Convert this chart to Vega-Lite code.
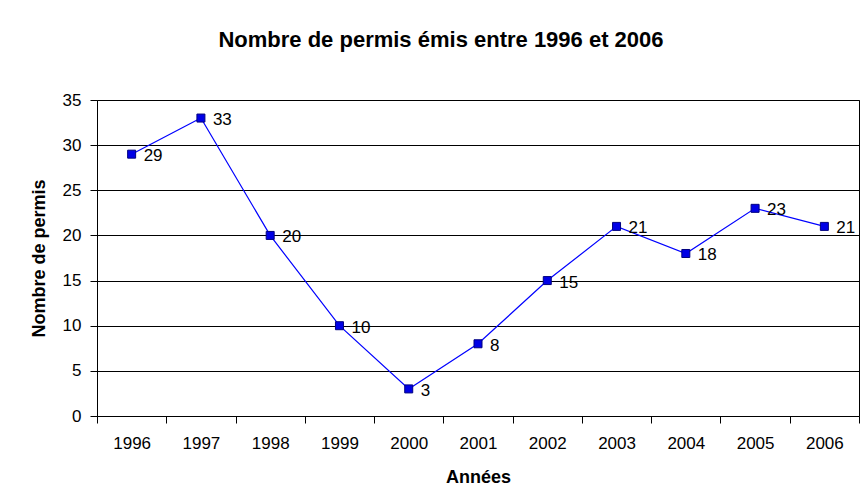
{
  "$schema": "https://vega.github.io/schema/vega-lite/v6.json",
  "width": 762,
  "height": 316,
  "autosize": "none",
  "padding": {"left": 97, "top": 100, "right": 9, "bottom": 85},
  "background": "white",
  "title": {
    "text": "Nombre de permis émis entre 1996 et 2006",
    "font": "Liberation Sans",
    "fontSize": 22,
    "fontWeight": "bold",
    "color": "black",
    "anchor": "middle",
    "frame": "group",
    "offset": 39,
    "dx": -37
  },
  "data": {
    "values": [
      {"annee": "1996", "permis": 29},
      {"annee": "1997", "permis": 33},
      {"annee": "1998", "permis": 20},
      {"annee": "1999", "permis": 10},
      {"annee": "2000", "permis": 3},
      {"annee": "2001", "permis": 8},
      {"annee": "2002", "permis": 15},
      {"annee": "2003", "permis": 21},
      {"annee": "2004", "permis": 18},
      {"annee": "2005", "permis": 23},
      {"annee": "2006", "permis": 21}
    ]
  },
  "encoding": {
    "x": {
      "field": "annee",
      "type": "ordinal",
      "scale": {"type": "band", "paddingInner": 0, "paddingOuter": 0},
      "axis": {
        "title": "Années",
        "labelAngle": 0,
        "tickBand": "extent",
        "tickSize": 7,
        "tickColor": "black",
        "domain": false,
        "labelPadding": 12,
        "titlePadding": 17
      }
    },
    "y": {
      "field": "permis",
      "type": "quantitative",
      "scale": {"domain": [0, 35], "nice": false},
      "axis": {
        "title": "Nombre de permis",
        "values": [0, 5, 10, 15, 20, 25, 30, 35],
        "tickSize": 7,
        "tickColor": "black",
        "domain": false,
        "grid": true,
        "gridColor": "black",
        "gridOpacity": 1,
        "gridWidth": 1,
        "labelPadding": 9,
        "titlePadding": 14
      }
    }
  },
  "layer": [
    {
      "mark": {"type": "line", "color": "#0000ff", "strokeWidth": 1.2}
    },
    {
      "mark": {"type": "point", "shape": "square", "size": 64, "filled": true, "fill": "#0000e6", "stroke": "#000080", "strokeWidth": 1, "opacity": 1}
    },
    {
      "mark": {"type": "text", "align": "left", "baseline": "middle", "dx": 12, "dy": 2, "font": "Liberation Sans", "fontSize": 17, "color": "black"},
      "encoding": {"text": {"field": "permis", "type": "quantitative"}}
    }
  ],
  "config": {
    "view": {"stroke": "black", "strokeWidth": 1},
    "axis": {
      "labelFont": "Liberation Sans",
      "labelFontSize": 17,
      "labelColor": "black",
      "titleFont": "Liberation Sans",
      "titleFontSize": 18,
      "titleFontWeight": "bold",
      "titleColor": "black"
    }
  }
}
